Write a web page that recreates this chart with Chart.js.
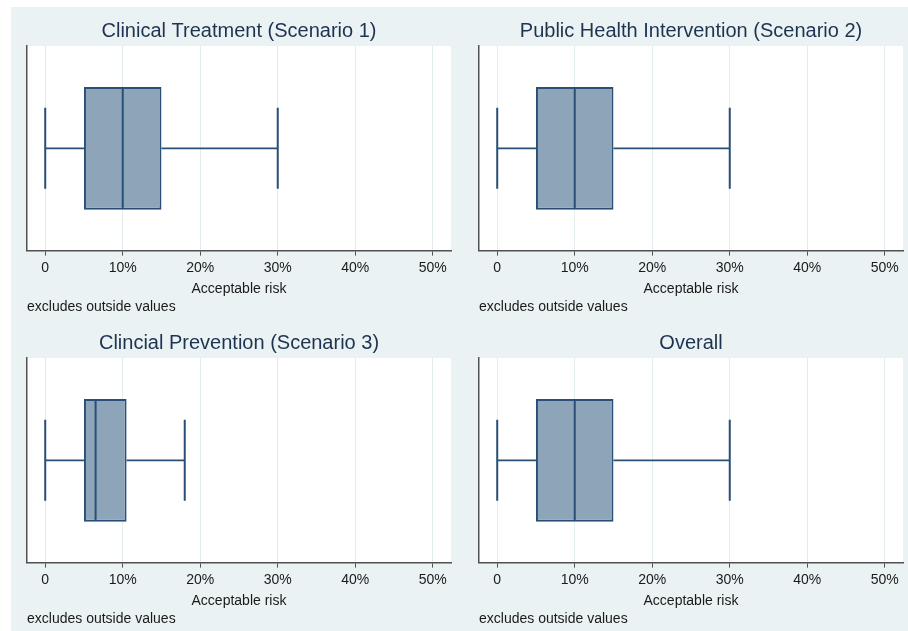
<!DOCTYPE html>
<html>
<head>
<meta charset="utf-8">
<script src="https://cdn.jsdelivr.net/npm/chart.js@4.4.1/dist/chart.umd.min.js"></script>
<style>
  html, body { margin: 0; padding: 0; background: #ffffff; }
  body { width: 908px; height: 631px; position: relative; overflow: hidden; }
  #frame { position: absolute; left: 11px; top: 7px; width: 897px; height: 624px; background: #eaf2f3; }
  canvas { position: absolute; }
</style>
</head>
<body>
<div id="frame"></div>
<canvas id="p0" style="left:11px;top:7px" width="448" height="313"></canvas>
<canvas id="p1" style="left:459px;top:7px" width="449" height="313"></canvas>
<canvas id="p2" style="left:11px;top:319px" width="448" height="313"></canvas>
<canvas id="p3" style="left:459px;top:319px" width="449" height="313"></canvas>
<script>
// Acceptable risk (%) by scenario: five-number summaries of each box plot
const panelTitles = [
  'Clinical Treatment (Scenario 1)',
  'Public Health Intervention (Scenario 2)',
  'Clincial Prevention (Scenario 3)',
  'Overall'
];
const lowerWhisker  = [0, 0, 0, 0];
const lowerQuartile = [5, 5, 5, 5];
const medians       = [10, 10, 6.5, 10];
const upperQuartile = [15, 15, 10.5, 15];
const upperWhisker  = [30, 30, 18, 30];

const tickValues = [0, 10, 20, 30, 40, 50];
const tickLabels = ['0', '10%', '20%', '30%', '40%', '50%'];
const axisTitle = 'Acceptable risk';
const noteText = 'excludes outside values';

const FONT = '"Liberation Sans", Arial, Helvetica, sans-serif';
const BOX_FILL = '#8da4b9';
const BOX_LINE = '#2a4f77';
const TITLE_COLOR = '#1e3350';
const TEXT_COLOR = '#1a1a1a';
const AXIS_COLOR = '#505050';

// white plot region
const plotBackground = {
  id: 'plotBackground',
  beforeDraw(chart) {
    const { ctx, chartArea: a } = chart;
    ctx.save();
    ctx.fillStyle = '#ffffff';
    ctx.fillRect(a.left, a.top, a.right - a.left, a.bottom - a.top);
    ctx.restore();
  }
};

// median line, whiskers and caps drawn around the floating bar (the IQR box)
const whiskers = {
  id: 'whiskers',
  afterDatasetsDraw(chart, args, opts) {
    const bar = chart.getDatasetMeta(0).data[0];
    if (!bar) return;
    const { y, height } = bar.getProps(['y', 'height'], true);
    const xs = chart.scales.x;
    const ctx = chart.ctx;
    const half = height / 2;
    const capHalf = half * opts.capRatio;
    const px = v => xs.getPixelForValue(v);
    ctx.save();
    ctx.strokeStyle = BOX_LINE;
    ctx.lineCap = 'butt';
    // whiskers
    ctx.lineWidth = 1.8;
    ctx.beginPath();
    ctx.moveTo(px(opts.lo), y); ctx.lineTo(px(opts.q1), y);
    ctx.moveTo(px(opts.q3), y); ctx.lineTo(px(opts.hi), y);
    ctx.stroke();
    // caps
    ctx.lineWidth = 2;
    ctx.beginPath();
    ctx.moveTo(px(opts.lo), y - capHalf); ctx.lineTo(px(opts.lo), y + capHalf);
    ctx.moveTo(px(opts.hi), y - capHalf); ctx.lineTo(px(opts.hi), y + capHalf);
    ctx.stroke();
    // median
    ctx.lineWidth = 2;
    ctx.beginPath();
    ctx.moveTo(px(opts.med), y - half + 1); ctx.lineTo(px(opts.med), y + half - 1);
    ctx.stroke();
    ctx.restore();
  }
};

function makePanel(i) {
  const isLeft = i % 2 === 0;
  return new Chart(document.getElementById('p' + i), {
    type: 'bar',
    data: {
      labels: [''],
      datasets: [{
        data: [[lowerQuartile[i], upperQuartile[i]]],
        backgroundColor: BOX_FILL,
        borderColor: BOX_LINE,
        borderWidth: 2,
        borderSkipped: false,
        barPercentage: 1,
        categoryPercentage: 0.6
      }]
    },
    plugins: [plotBackground, whiskers],
    options: {
      indexAxis: 'y',
      responsive: false,
      animation: false,
      events: [],
      layout: { padding: { left: isLeft ? 16 : 20, right: isLeft ? 8 : 5, top: 0, bottom: 0 } },
      plugins: {
        legend: { display: false },
        tooltip: { enabled: false },
        title: {
          display: true,
          text: panelTitles[i],
          color: TITLE_COLOR,
          font: { family: FONT, size: 20, weight: 'normal' },
          padding: { top: 12, bottom: 3 }
        },
        subtitle: {
          display: true,
          text: noteText,
          position: 'bottom',
          align: 'start',
          color: TEXT_COLOR,
          font: { family: FONT, size: 14, weight: 'normal' },
          padding: { top: 2, bottom: 4 }
        },
        whiskers: {
          lo: lowerWhisker[i], q1: lowerQuartile[i], med: medians[i],
          q3: upperQuartile[i], hi: upperWhisker[i], capRatio: 0.66
        }
      },
      scales: {
        x: {
          type: 'linear',
          min: -2.35,
          max: 52.35,
          afterBuildTicks: scale => { scale.ticks = tickValues.map(v => ({ value: v })); },
          ticks: {
            callback: v => tickLabels[tickValues.indexOf(v)],
            color: TEXT_COLOR,
            font: { family: FONT, size: 14 },
            padding: 4,
            maxRotation: 0,
            autoSkip: false
          },
          grid: { color: '#e3ecef', lineWidth: 1, tickColor: AXIS_COLOR, tickLength: 5 },
          border: { display: true, color: AXIS_COLOR, width: 1.5 },
          title: {
            display: true,
            text: axisTitle,
            color: TEXT_COLOR,
            font: { family: FONT, size: 14 },
            padding: { top: 0, bottom: 0 }
          }
        },
        y: {
          ticks: { display: false },
          grid: { display: false, drawTicks: false },
          border: { display: true, color: AXIS_COLOR, width: 1.5 }
        }
      }
    }
  });
}

for (let i = 0; i < 4; i++) makePanel(i);
</script>
</body>
</html>
